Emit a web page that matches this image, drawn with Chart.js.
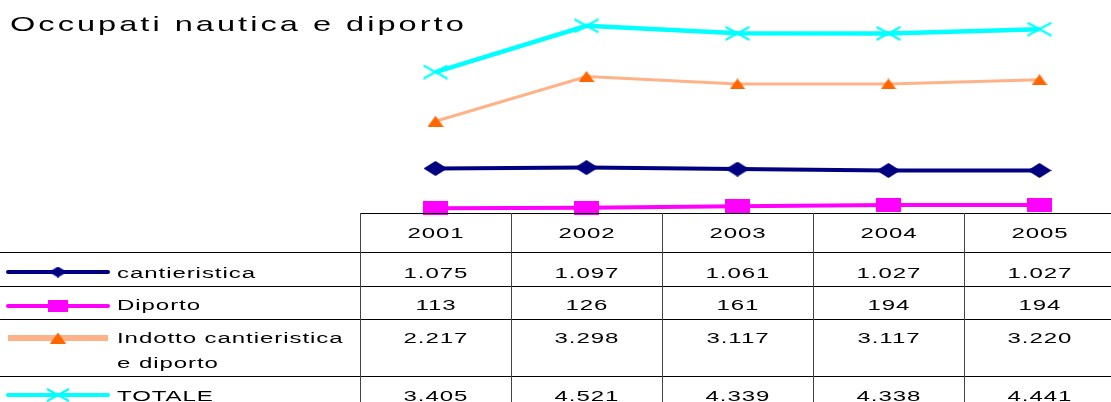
<!DOCTYPE html>
<html>
<head>
<meta charset="utf-8">
<script src="https://cdn.jsdelivr.net/npm/chart.js@4"></script>
<style>
  html, body { margin: 0; padding: 0; background: #fff; overflow: hidden; }
  #wrap { width: 1120px; height: 402px; }
</style>
</head>
<body>
<div id="wrap"><canvas id="myChart" width="1120" height="402"></canvas></div>
<script>
/* dati */
const anni = ['2001', '2002', '2003', '2004', '2005'];
const cantieristica = [1075, 1097, 1061, 1027, 1027];
const diporto = [113, 126, 161, 194, 194];
const indotto = [2217, 3298, 3117, 3117, 3220];
const totale = [3405, 4521, 4339, 4338, 4441];

const etichette = ['cantieristica', 'Diporto', 'Indotto cantieristica|e diporto', 'TOTALE'];

// testo allargato in orizzontale
const SX = 1.55;
const FONT = '"Liberation Sans", Arial, sans-serif';

function fmt(n) {
  return String(n).replace(/\B(?=(\d{3})+(?!\d))/g, '.');
}

function testo(ctx, t, x, y, size, spacing, align) {
  ctx.save();
  ctx.font = size + 'px ' + FONT;
  ctx.letterSpacing = spacing + 'px';
  ctx.textAlign = align || 'left';
  ctx.textBaseline = 'alphabetic';
  ctx.fillStyle = '#000';
  ctx.scale(SX, 1);
  let dx = align === 'center' ? spacing / 2 : 0;
  ctx.fillText(t, x / SX + dx, y);
  ctx.restore();
}

/* marker disegnati a mano */
function marker(w, h, draw) {
  const c = document.createElement('canvas');
  c.width = w; c.height = h;
  draw(c.getContext('2d'), w, h);
  return c;
}
function rombo(w, h) {
  return marker(w, h, (g) => {
    g.fillStyle = '#000080';
    g.beginPath();
    g.moveTo(w / 2, 0); g.lineTo(w, h / 2); g.lineTo(w / 2, h); g.lineTo(0, h / 2);
    g.closePath(); g.fill();
  });
}
function quadrato(w, h) {
  return marker(w, h, (g) => { g.fillStyle = '#ff00ff'; g.fillRect(0, 0, w, h); });
}
function triangolo(w, h) {
  return marker(w, h, (g) => {
    g.fillStyle = '#ff6600';
    g.beginPath();
    g.moveTo(w / 2, 0); g.lineTo(w, h); g.lineTo(0, h);
    g.closePath(); g.fill();
  });
}
function croce(w, h) {
  return marker(w, h, (g) => {
    g.strokeStyle = '#00ffff';
    g.lineWidth = 2;
    g.beginPath();
    g.moveTo(1, 1); g.lineTo(w - 1, h - 1);
    g.moveTo(w - 1, 1); g.lineTo(1, h - 1);
    g.stroke();
  });
}

const stili = [
  { colore: '#000080', linea: '#000080', spessore: 4, punto: rombo(24, 15), leg: rombo(18, 11) },
  { colore: '#ff00ff', linea: '#ff00ff', spessore: 4, punto: quadrato(25, 14), leg: quadrato(20, 12) },
  { colore: '#ff6600', linea: 'rgb(255,178,135)', spessore: 3, punto: triangolo(16, 11), leg: triangolo(16, 11) },
  { colore: '#00ffff', linea: '#00ffff', spessore: 4.5, punto: croce(26, 15), leg: croce(24, 14) },
];
const serie = [cantieristica, diporto, indotto, totale];

/* tabella dati sotto il grafico */
const tabella = {
  id: 'tabella',
  afterDraw(chart) {
    const ctx = chart.ctx;
    const x = chart.scales.x;
    const colW = (chart.chartArea.right - chart.chartArea.left) / anni.length;
    const left = chart.chartArea.left;
    const righe = [252, 286, 319, 376];
    const base = [278, 310, 343, 401];
    const legY = [272, 306, 338, 395];

    // titolo
    testo(ctx, 'Occupati nautica e diporto', 10, 31, 21, 1.95, 'left');

    ctx.save();
    ctx.strokeStyle = '#000';
    ctx.lineWidth = 1;
    ctx.beginPath();
    ctx.moveTo(left, 213.5); ctx.lineTo(1120, 213.5);
    righe.forEach(y => { ctx.moveTo(0, y + 0.5); ctx.lineTo(1120, y + 0.5); });
    ctx.stroke();
    ctx.strokeStyle = '#444';
    ctx.beginPath();
    for (let i = 0; i <= anni.length; i++) {
      const vx = Math.round(left + i * colW) + 0.5;
      ctx.moveTo(vx, 213); ctx.lineTo(vx, 402);
    }
    ctx.stroke();
    ctx.restore();

    anni.forEach((a, i) => testo(ctx, a, x.getPixelForValue(i), 238, 15.5, 0.6, 'center'));

    serie.forEach((vals, r) => {
      vals.forEach((v, i) => testo(ctx, fmt(v), x.getPixelForValue(i), base[r], 15.5, 0.6, 'center'));

      // legenda
      const st = stili[r];
      ctx.save();
      ctx.strokeStyle = st.linea;
      ctx.lineWidth = r === 2 ? 6 : 4;
      ctx.lineCap = r === 2 ? 'butt' : 'round';
      ctx.beginPath();
      ctx.moveTo(8, legY[r]); ctx.lineTo(108, legY[r]);
      ctx.stroke();
      ctx.drawImage(st.leg, 58 - st.leg.width / 2, legY[r] - st.leg.height / 2);
      ctx.restore();

      const parti = etichette[r].split('|');
      parti.forEach((p, k) => testo(ctx, p, 117, base[r] + k * 25, 15.5, 0.6, 'left'));
    });
  }
};

const ctx = document.getElementById('myChart').getContext('2d');
const myChart = new Chart(ctx, {
  type: 'line',
  data: {
    labels: anni,
    datasets: serie.map((vals, i) => ({
      label: etichette[i].replace('|', ' '),
      data: vals,
      borderColor: stili[i].linea,
      backgroundColor: stili[i].colore,
      borderWidth: stili[i].spessore,
      pointStyle: stili[i].punto,
      pointRadius: 8,
      tension: 0,
      fill: false,
      clip: false,
    }))
  },
  options: {
    responsive: false,
    animation: false,
    layout: { autoPadding: false, padding: { left: 360, right: 5, top: 6, bottom: 189 } },
    scales: {
      x: { display: false, offset: true },
      y: { display: false, min: 0, max: 5000 }
    },
    plugins: {
      legend: { display: false },
      tooltip: { enabled: false },
      title: { display: false }
    }
  },
  plugins: [tabella]
});
</script>
</body>
</html>
